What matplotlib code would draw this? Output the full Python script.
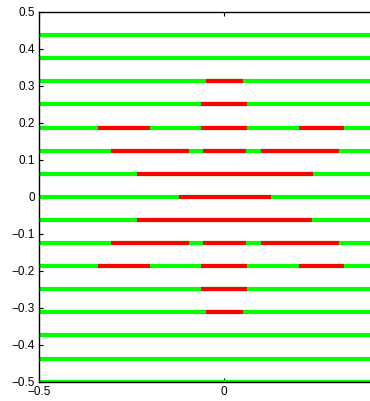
import matplotlib
matplotlib.use("Agg")
import matplotlib.pyplot as plt

# Horizontal levels (all drawn green across the full x range)
y_levels = [-0.5, -0.4375, -0.375, -0.3125, -0.25, -0.1875, -0.125, -0.0625,
            0.0, 0.0625, 0.125, 0.1875, 0.25, 0.3125, 0.375, 0.4375]

# Red segments: level, start, end
seg_y = [0.3125, 0.25,
         0.1875, 0.1875, 0.1875,
         0.125, 0.125, 0.125,
         0.0625, 0.0,
         -0.0625,
         -0.125, -0.125, -0.125,
         -0.1875, -0.1875, -0.1875,
         -0.25, -0.3125]
seg_x0 = [-0.05, -0.0625,
          -0.34, -0.0625, 0.203,
          -0.306, -0.057, 0.098,
          -0.235, -0.123,
          -0.235,
          -0.306, -0.057, 0.098,
          -0.34, -0.0625, 0.203,
          -0.0625, -0.05]
seg_x1 = [0.05, 0.0625,
          -0.2, 0.0625, 0.324,
          -0.095, 0.059, 0.309,
          0.239, 0.126,
          0.238,
          -0.095, 0.059, 0.309,
          -0.2, 0.0625, 0.324,
          0.0625, 0.05]

x_ticks = [-0.5, 0, 0.5]
x_ticklabels = ["\u22120.5", "0", ""]  # the 0.5 label lies outside the cropped figure
y_ticks = [-0.5, -0.4, -0.3, -0.2, -0.1, 0, 0.1, 0.2, 0.3, 0.4, 0.5]
y_ticklabels = ["\u22120.5", "\u22120.4", "\u22120.3", "\u22120.2", "\u22120.1", "0",
                "0.1", "0.2", "0.3", "0.4", "0.5"]

plt.rcParams['font.family'] = ['Liberation Sans', 'DejaVu Sans']

fig = plt.figure(figsize=(3.7, 4.01), dpi=100)
ax = fig.add_axes([39.3 / 370, 19.3 / 401, 1.0, 369.7 / 401])

ax.hlines(y_levels, -0.5, 0.5, color=(0, 1, 0), lw=3, capstyle='butt')
ax.hlines(seg_y, seg_x0, seg_x1, color=(1, 0, 0), lw=3, capstyle='butt')

ax.set_xlim(-0.5, 0.5)
ax.set_ylim(-0.5, 0.5)
ax.set_xticks(x_ticks)
ax.set_xticklabels(x_ticklabels)
ax.set_yticks(y_ticks)
ax.set_yticklabels(y_ticklabels)
ax.tick_params(direction='in', length=3, width=0.8, labelsize=8.5,
               top=True, right=True, pad=3)
for s in ax.spines.values():
    s.set_linewidth(1.0)

fig.savefig("out.png", dpi=100)
